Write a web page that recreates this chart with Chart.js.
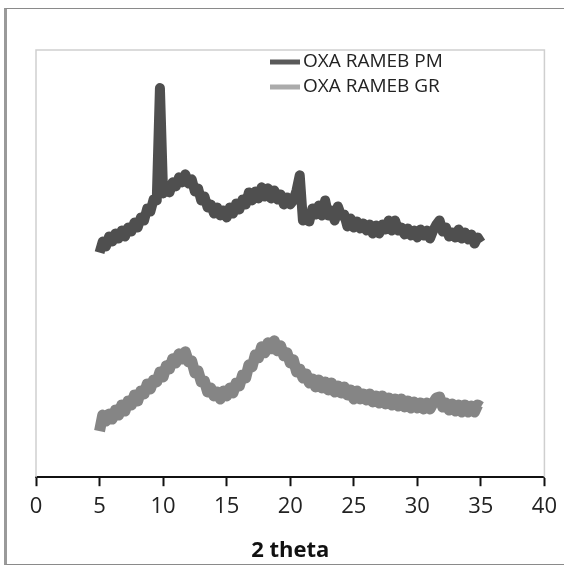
<!DOCTYPE html>
<html>
<head>
<meta charset="utf-8">
<script src="https://cdn.jsdelivr.net/npm/chart.js@4.4.1/dist/chart.umd.min.js"></script>
<style>
  html, body { margin: 0; padding: 0; background: #fff; }
  .wrap { position: relative; width: 564px; height: 568px; overflow: hidden; }
  .frame {
    position: absolute; left: 4px; top: 8px; width: 600px; height: 555px;
    border-top: 1px solid #8a8a8a; border-left: 3px solid #9a9a9a; border-bottom: 1px solid #8a8a8a;
  }
  canvas { position: absolute; left: 0; top: 0; }
</style>
</head>
<body>
<div class="wrap">
  <div class="frame"></div>
  <canvas id="xrd" width="564" height="568"></canvas>
</div>
<script>
// 2 theta grid, 5 to 35 in 0.25 steps
const twoTheta = [];
for (let i = 0; i <= 120; i++) twoTheta.push(5 + i * 0.25);

const xTicks = [0, 5, 10, 15, 20, 25, 30, 35, 40];
const seriesNames = ['OXA RAMEB PM', 'OXA RAMEB GR'];

// intensity (arbitrary units)
const pmValues = [
  224, 235, 230, 240, 235, 243, 238, 246, 240, 249, 245, 254, 249, 259, 256, 268, 265, 277, 276, 388,
  283, 288, 284, 294, 290, 299, 294, 302, 293, 297, 285, 288, 276, 280, 269, 272, 263, 269, 261, 266,
  259, 269, 263, 273, 267, 277, 272, 284, 276, 285, 278, 289, 280, 288, 278, 286, 277, 282, 272, 279,
  272, 276, 286, 301, 256, 257, 255, 268, 262, 271, 261, 276, 261, 266, 256, 270, 261, 262, 250, 258,
  249, 255, 248, 253, 246, 252, 243, 251, 243, 252, 247, 256, 246, 256, 246, 249, 242, 248, 241, 246,
  239, 247, 241, 246, 238, 246, 252, 256, 245, 249, 240, 244, 239, 247, 238, 244, 237, 242, 233, 239,
  234
];
const grValues = [
  46, 62, 56, 63, 58, 67, 62, 72, 66, 76, 72, 82, 76, 86, 83, 93, 88, 97, 95, 105,
  100, 111, 108, 118, 114, 123, 118, 125, 115, 116, 104, 106, 95, 96, 85, 89, 81, 85, 78, 86,
  81, 89, 84, 94, 91, 102, 99, 112, 110, 122, 119, 130, 124, 134, 128, 136, 126, 131, 121, 124,
  114, 117, 105, 108, 99, 103, 94, 98, 90, 97, 89, 95, 87, 94, 85, 91, 84, 90, 82, 87,
  78, 86, 78, 83, 77, 83, 75, 81, 74, 81, 73, 79, 72, 78, 71, 78, 70, 76, 69, 75,
  69, 74, 68, 74, 68, 74, 79, 80, 70, 74, 67, 73, 66, 72, 65, 72, 65, 71, 65, 72,
  70
];

const toPoints = vals => vals.map((v, i) => ({ x: twoTheta[i], y: v }));

// legend + plot frame drawn by hand, like the original sheet
const sheetPlugin = {
  id: 'sheet',
  beforeDatasetsDraw(chart) {
    const { ctx, chartArea } = chart;
    ctx.save();
    ctx.strokeStyle = '#cfcfcf';
    ctx.lineWidth = 1.5;
    ctx.beginPath();
    ctx.moveTo(chartArea.left, chartArea.bottom);
    ctx.lineTo(chartArea.left, chartArea.top);
    ctx.lineTo(chartArea.right, chartArea.top);
    ctx.lineTo(chartArea.right, chartArea.bottom);
    ctx.stroke();
    ctx.restore();
  },
  afterDraw(chart) {
    const { ctx } = chart;
    ctx.save();
    ctx.font = '19px "Open Sans"';
    ctx.textBaseline = 'middle';
    chart.data.datasets.forEach((ds, i) => {
      const y = 62 + i * 25;
      ctx.strokeStyle = ds.legendColor;
      ctx.lineWidth = 5;
      ctx.beginPath();
      ctx.moveTo(270, y);
      ctx.lineTo(300, y);
      ctx.stroke();
      ctx.fillStyle = '#222';
      ctx.fillText(ds.label, 303, y);
    });
    ctx.restore();
  }
};

new Chart(document.getElementById('xrd'), {
  type: 'line',
  data: {
    datasets: [
      {
        label: seriesNames[0],
        data: toPoints(pmValues),
        borderColor: '#4f4f4f',
        legendColor: '#5a5a5a',
        borderWidth: 10,
        borderJoinStyle: 'round',
        pointRadius: 0,
        tension: 0
      },
      {
        label: seriesNames[1],
        data: toPoints(grValues),
        borderColor: '#858585',
        legendColor: '#ababab',
        borderWidth: 11,
        borderJoinStyle: 'round',
        pointRadius: 0,
        tension: 0
      }
    ]
  },
  options: {
    responsive: false,
    animation: false,
    events: [],
    layout: { autoPadding: false, padding: { left: 36, right: 15, top: 50, bottom: 4 } },
    plugins: {
      legend: { display: false },
      tooltip: { enabled: false }
    },
    scales: {
      x: {
        type: 'linear',
        min: 0,
        max: 40,
        afterBuildTicks: axis => { axis.ticks = xTicks.map(v => ({ value: v })); },
        grid: { drawOnChartArea: false, tickLength: 9, tickWidth: 2, tickColor: '#111' },
        border: { color: '#111', width: 2 },
        ticks: { color: '#222', font: { family: 'Open Sans', size: 22 }, padding: 7, maxRotation: 0 },
        title: {
          display: true,
          text: '2 theta',
          color: '#111',
          font: { family: 'Open Sans', size: 22, weight: 'bold' },
          padding: { top: 11, bottom: 0 }
        }
      },
      y: {
        display: false,
        min: 0,
        max: 426
      }
    }
  },
  plugins: [sheetPlugin]
});
</script>
</body>
</html>
